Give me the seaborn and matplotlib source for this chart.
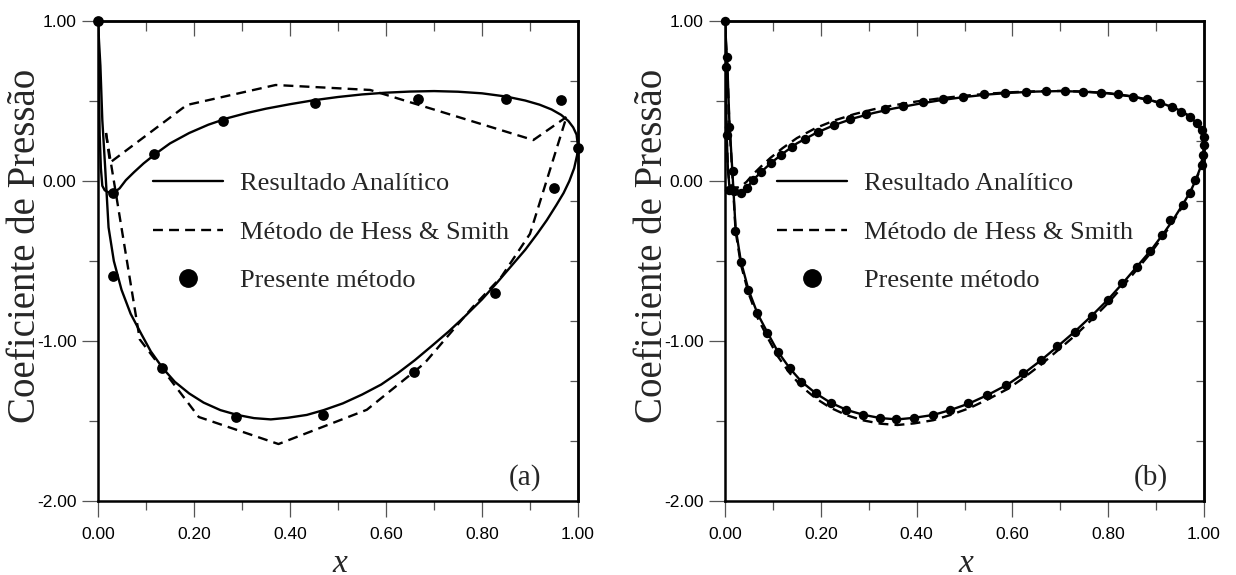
import matplotlib
matplotlib.use("Agg")
import matplotlib.pyplot as plt
from matplotlib.lines import Line2D
from matplotlib.ticker import MultipleLocator, FixedLocator, FormatStrFormatter, NullFormatter
import seaborn as sns
import pandas as pd

# ---------------- data ----------------
# Analytic result (same airfoil in both panels)
an_up_x = [0.0, 0.0015, 0.0035, 0.006, 0.009, 0.014, 0.02, 0.027, 0.035, 0.045,
           0.058, 0.075, 0.095, 0.12, 0.15, 0.19, 0.23, 0.27, 0.31, 0.35,
           0.40, 0.45, 0.50, 0.55, 0.60, 0.65, 0.70, 0.75, 0.80, 0.85,
           0.89, 0.92, 0.945, 0.965, 0.98, 0.99, 0.997, 1.0]
an_up_cp = [1.0, 0.715, 0.29, 0.08, -0.03, -0.058, -0.068, -0.074, -0.068, -0.046,
            0.005, 0.055, 0.11, 0.17, 0.235, 0.30, 0.352, 0.393, 0.425, 0.452,
            0.480, 0.505, 0.525, 0.541, 0.552, 0.559, 0.562, 0.558, 0.548, 0.528,
            0.503, 0.477, 0.447, 0.413, 0.375, 0.335, 0.29, 0.215]
an_lo_x = [0.0, 0.002, 0.005, 0.009, 0.015, 0.022, 0.033, 0.049, 0.068, 0.09,
           0.11, 0.135, 0.16, 0.19, 0.22, 0.255, 0.29, 0.325, 0.36, 0.395,
           0.435, 0.47, 0.51, 0.55, 0.59, 0.625, 0.66, 0.695, 0.73, 0.765,
           0.80, 0.83, 0.86, 0.89, 0.915, 0.935, 0.955, 0.97, 0.982, 0.992,
           0.998, 1.0]
an_lo_cp = [1.0, 0.88, 0.72, 0.38, 0.08, -0.29, -0.50, -0.68, -0.83, -0.955,
            -1.065, -1.17, -1.255, -1.328, -1.385, -1.432, -1.462, -1.482, -1.49, -1.48,
            -1.462, -1.432, -1.39, -1.335, -1.272, -1.2, -1.12, -1.032, -0.942, -0.844,
            -0.74, -0.64, -0.535, -0.43, -0.33, -0.245, -0.15, -0.075, 0.0, 0.08,
            0.16, 0.215]

# Panel (a): Hess & Smith (few panels)
a_hs_up_x = [0.0167, 0.025, 0.185, 0.37, 0.567, 0.907, 0.976]
a_hs_up_cp = [0.30, 0.115, 0.475, 0.60, 0.569, 0.256, 0.40]
a_hs_lo_x = [0.0167, 0.087, 0.21, 0.376, 0.56, 0.68, 0.78, 0.84, 0.90, 0.976]
a_hs_lo_cp = [0.30, -0.99, -1.475, -1.644, -1.43, -1.14, -0.79, -0.60, -0.33, 0.40]
# Panel (a): present method
a_pm_x = [0.964, 0.85, 0.667, 0.452, 0.26, 0.117, 0.032, 0.0,
          0.032, 0.134, 0.287, 0.468, 0.658, 0.827, 0.95, 1.0]
a_pm_cp = [0.506, 0.51, 0.512, 0.489, 0.375, 0.167, -0.073, 1.0,
           -0.594, -1.171, -1.473, -1.4625, -1.192, -0.698, -0.042, 0.208]

# Panel (b): Hess & Smith (many panels)
b_hs_up_x = an_up_x
b_hs_up_cp = [0.98, 0.70, 0.28, 0.08, -0.01, -0.035, -0.04, -0.04, -0.03, -0.005,
              0.04, 0.09, 0.145, 0.205, 0.268, 0.332, 0.38, 0.418, 0.448, 0.472,
              0.497, 0.517, 0.533, 0.546, 0.555, 0.561, 0.563, 0.559, 0.549, 0.529,
              0.504, 0.478, 0.448, 0.414, 0.376, 0.336, 0.29, 0.215]
b_hs_lo_x = an_lo_x
b_hs_lo_cp = [0.98, 0.86, 0.70, 0.36, 0.06, -0.31, -0.52, -0.70, -0.855, -0.985,
              -1.095, -1.2, -1.285, -1.36, -1.417, -1.465, -1.497, -1.517, -1.525, -1.515,
              -1.495, -1.463, -1.42, -1.363, -1.3, -1.227, -1.147, -1.058, -0.968, -0.868,
              -0.762, -0.66, -0.553, -0.445, -0.343, -0.255, -0.16, -0.082, -0.005, 0.075,
              0.155, 0.215]
# Panel (b): present method
b_pm_up_x = [0.0, 0.0015, 0.0035, 0.009, 0.019, 0.033, 0.045, 0.058, 0.076, 0.095,
             0.116, 0.14, 0.168, 0.194, 0.228, 0.26, 0.295, 0.333, 0.372, 0.413,
             0.4545, 0.496, 0.541, 0.585, 0.628, 0.67, 0.71, 0.748, 0.786, 0.821,
             0.852, 0.882, 0.908, 0.9325, 0.953, 0.971, 0.985, 0.995, 1.0, 1.0]
b_pm_up_cp = [1.0, 0.715, 0.2875, -0.056, -0.06, -0.073, -0.046, 0.006, 0.058, 0.11,
              0.1625, 0.214, 0.26, 0.308, 0.35, 0.385, 0.419, 0.448, 0.471, 0.496,
              0.51, 0.527, 0.542, 0.548, 0.558, 0.5625, 0.5625, 0.558, 0.548, 0.542,
              0.527, 0.51, 0.489, 0.464, 0.433, 0.402, 0.36, 0.319, 0.277, 0.225]
b_pm_lo_x = [0.005, 0.009, 0.016, 0.021, 0.033, 0.049, 0.0675, 0.0883, 0.1107, 0.135,
             0.159, 0.1906, 0.222, 0.2533, 0.288, 0.323, 0.3577, 0.3946, 0.4336, 0.47,
             0.508, 0.546, 0.5866, 0.623, 0.659, 0.694, 0.7307, 0.7655, 0.8, 0.828,
             0.8595, 0.887, 0.912, 0.929, 0.957, 0.971, 0.981, 0.995, 0.9985]
b_pm_lo_cp = [0.777, 0.34, 0.0625, -0.3125, -0.504, -0.681, -0.827, -0.952, -1.067, -1.171,
              -1.254, -1.327, -1.385, -1.431, -1.4625, -1.483, -1.49, -1.479, -1.4625, -1.431,
              -1.39, -1.3375, -1.275, -1.202, -1.119, -1.031, -0.942, -0.844, -0.744, -0.64,
              -0.535, -0.435, -0.3375, -0.244, -0.15, -0.073, 0.006, 0.1, 0.1625]

legend_labels = ["Resultado Analítico", "Método de Hess & Smith", "Presente método"]
x_ticks = [0.0, 0.2, 0.4, 0.6, 0.8, 1.0]
y_ticks = [1.0, 0.0, -1.0, -2.0]
panel_tags = ["(a)", "(b)"]
ylabel_text = "Coeficiente de Pressão"
xlabel_text = "x"

# ---------------- style ----------------
sns.set_style("white")
plt.rcParams["font.family"] = ["Liberation Sans", "DejaVu Sans"]
plt.rcParams["axes.unicode_minus"] = False
SERIF = ["Liberation Serif", "DejaVu Serif"]

W, H = 1236, 575
fig = plt.figure(figsize=(W / 100, H / 100), dpi=100)

LW = 1.7
DASH = (0, (4.2, 2.6))
TICKC = "#555555"


def draw_panel(ax, hs_up, hs_lo, pm, msize, tag, leg_x):
    up = pd.DataFrame({"x": an_up_x, "cp": an_up_cp})
    lo = pd.DataFrame({"x": an_lo_x, "cp": an_lo_cp})
    sns.lineplot(data=up, x="x", y="cp", sort=False, estimator=None, color="black",
                 linewidth=LW, ax=ax, zorder=3)
    sns.lineplot(data=lo, x="x", y="cp", sort=False, estimator=None, color="black",
                 linewidth=LW, ax=ax, zorder=3)
    for xs, ys in (hs_up, hs_lo):
        d = pd.DataFrame({"x": xs, "cp": ys})
        sns.lineplot(data=d, x="x", y="cp", sort=False, estimator=None, color="black",
                     linewidth=LW, linestyle=DASH, ax=ax, zorder=2)
    for xs, ys in pm:
        d = pd.DataFrame({"x": xs, "cp": ys})
        sns.scatterplot(data=d, x="x", y="cp", color="black", s=msize, linewidth=0,
                        ax=ax, zorder=5, clip_on=False)

    ax.set_xlim(0, 1)
    ax.set_ylim(-2, 1)
    ax.xaxis.set_major_locator(FixedLocator(x_ticks))
    ax.xaxis.set_minor_locator(MultipleLocator(0.1))
    ax.yaxis.set_major_locator(FixedLocator(y_ticks))
    ax.yaxis.set_minor_locator(MultipleLocator(0.5))
    ax.xaxis.set_major_formatter(FormatStrFormatter("%.2f"))
    ax.yaxis.set_major_formatter(FormatStrFormatter("%.2f"))
    ax.tick_params(axis="both", which="major", direction="out", length=11.5, width=0.9,
                   color=TICKC, labelsize=12.5, labelcolor="black", bottom=True, left=True,
                   top=False, right=False)
    ax.tick_params(axis="x", which="major", pad=7)
    ax.tick_params(axis="y", which="major", pad=4)
    ax.tick_params(axis="both", which="minor", direction="out", length=6.5, width=0.9,
                   color=TICKC, bottom=True, left=True, top=False, right=False)
    for s in ax.spines.values():
        s.set_linewidth(1.8)
        s.set_color("black")
        s.set_zorder(4)

    # top ticks (inward)
    top = ax.secondary_xaxis("top")
    top.xaxis.set_major_locator(FixedLocator(x_ticks))
    top.xaxis.set_minor_locator(MultipleLocator(0.1))
    top.xaxis.set_major_formatter(NullFormatter())
    top.tick_params(which="major", direction="in", length=10.5, width=0.9, color=TICKC)
    top.tick_params(which="minor", direction="in", length=7.5, width=0.9, color=TICKC)
    top.spines["top"].set_linewidth(1.8)
    # right ticks (inward, 8 divisions)
    right = ax.secondary_yaxis("right")
    right.yaxis.set_major_locator(FixedLocator([1.0 - 0.375 * k for k in range(1, 8)]))
    right.yaxis.set_major_formatter(NullFormatter())
    right.tick_params(which="major", direction="in", length=6, width=0.9, color=TICKC)
    right.spines["right"].set_linewidth(1.8)

    ax.set_xlabel(xlabel_text, fontsize=24, family=SERIF, style="italic")
    ax.xaxis.set_label_coords(0.503, -0.1)
    ax.set_ylabel(ylabel_text, fontsize=28, family=SERIF)
    ax.yaxis.set_label_coords(-0.112, 0.531)

    ax.text(0.889, 0.049, tag, transform=ax.transAxes, fontsize=21, family=SERIF,
            ha="center", va="center")

    handles = [Line2D([], [], color="black", lw=LW),
               Line2D([], [], color="black", lw=LW, linestyle=DASH),
               Line2D([], [], color="black", marker="o", linestyle="", markersize=12.5)]
    ax.legend(handles, legend_labels, loc="center left",
              bbox_to_anchor=(leg_x / W, 1 - 232 / H), bbox_transform=fig.transFigure,
              frameon=False, borderpad=0, borderaxespad=0, handlelength=2.65,
              handletextpad=0.65, labelspacing=0.95,
              prop={"family": SERIF, "size": 19})


ax1 = fig.add_axes([98 / W, 74 / H, 480 / W, 480 / H])
ax2 = fig.add_axes([725 / W, 74 / H, 479 / W, 480 / H])

draw_panel(ax1, (a_hs_up_x, a_hs_up_cp), (a_hs_lo_x, a_hs_lo_cp),
           [(a_pm_x, a_pm_cp)], 60, panel_tags[0], 153)
draw_panel(ax2, (b_hs_up_x, b_hs_up_cp), (b_hs_lo_x, b_hs_lo_cp),
           [(b_pm_up_x, b_pm_up_cp), (b_pm_lo_x, b_pm_lo_cp)], 46, panel_tags[1], 777)

fig.savefig("out.png", dpi=100, facecolor="white")
